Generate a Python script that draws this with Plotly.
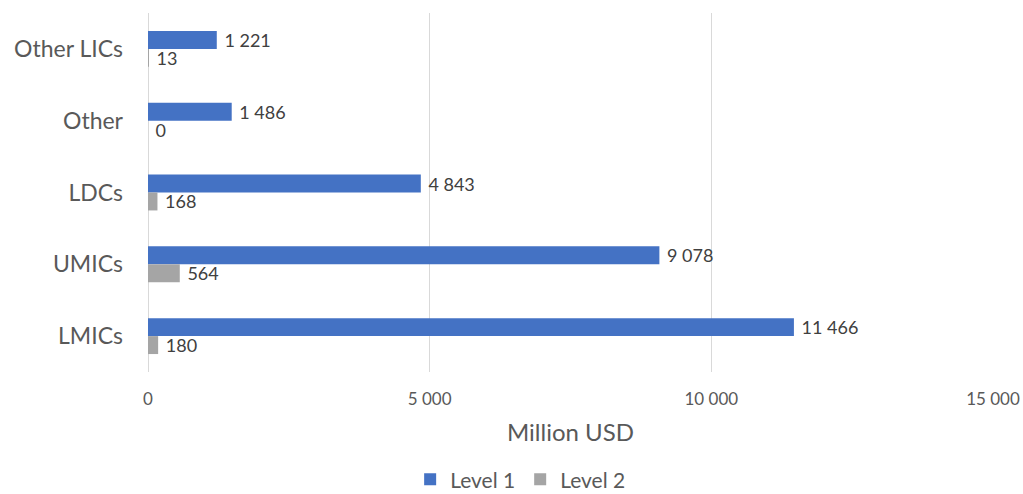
import plotly.graph_objects as go

categories = ["LMICs", "UMICs", "LDCs", "Other", "Other LICs"]
level1 = [11466, 9078, 4843, 1486, 1221]
level2 = [180, 564, 168, 0, 13]
x_ticks = [0, 5000, 10000, 15000]

FONT = "Lato, 'Open Sans', sans-serif"
TXT = "#404040"

fig = go.Figure()
for name, vals, color in [("Level 1", level1, "#4472C4"), ("Level 2", level2, "#A5A5A5")]:
    fig.add_trace(go.Bar(y=categories, x=vals, name=name, orientation="h",
                         marker=dict(color=color, line=dict(width=0)),
                         texttemplate=" %{x:,}", textposition="outside",
                         constraintext="none",
                         textfont=dict(size=18, color=TXT), cliponaxis=False))

fig.update_layout(
    width=1023, height=494,
    barmode="group", bargap=0.5, bargroupgap=0,
    separators=". ",
    font=dict(family=FONT, color="#595959"),
    plot_bgcolor="white", paper_bgcolor="white",
    margin=dict(l=148, r=30, t=13, b=122, autoexpand=False),
    xaxis=dict(range=[0, 15000], tickvals=x_ticks, tickformat=",",
               showgrid=True, gridcolor="#D9D9D9", zeroline=True,
               zerolinecolor="#D9D9D9", zerolinewidth=1, automargin=False,
               tickfont=dict(size=17), ticklabelstandoff=15,
               title=dict(text="Million USD", font=dict(size=24), standoff=16)),
    yaxis=dict(categoryorder="array", categoryarray=categories[::-1],
               autorange="reversed", automargin=False,
               tickfont=dict(size=23), ticklabelstandoff=24, showgrid=False),
    legend=dict(orientation="h", x=0.441, xanchor="center", y=-0.30, yanchor="middle",
                font=dict(size=21, color="#595959"), traceorder="normal",
                itemwidth=30),
)

# drop the browser's default 8px body margin so the figure fills the window
fig.write_html("out.html", config={"displayModeBar": False},
               post_script="document.body.style.margin='0';")
